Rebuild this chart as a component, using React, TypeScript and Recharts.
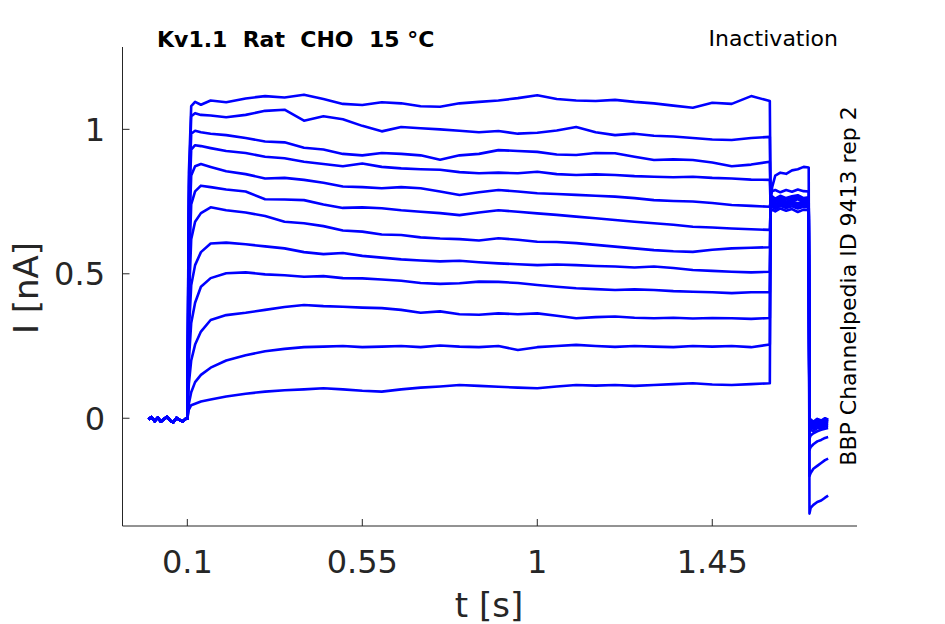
import { LineChart, Line, XAxis, YAxis } from "recharts";

// time grids (s)
const BASE_T = [0, 0.008, 0.016, 0.024, 0.032, 0.04, 0.048, 0.056, 0.064, 0.072, 0.08, 0.088, 0.096];
const PULSE_T = [
  0.1, 0.104, 0.11, 0.12, 0.135, 0.16, 0.2, 0.25, 0.3, 0.35, 0.4, 0.45, 0.5, 0.55, 0.6, 0.65, 0.7,
  0.75, 0.8, 0.85, 0.9, 0.95, 1.0, 1.05, 1.1, 1.15, 1.2, 1.25, 1.3, 1.35, 1.4, 1.45, 1.5, 1.55, 1.598,
];
const TEST_T = [1.6, 1.604, 1.612, 1.625, 1.64, 1.655, 1.67, 1.685, 1.698];
const TAIL_T = [1.7, 1.703, 1.71, 1.72, 1.73, 1.74, 1.748];

// holding current before the prepulse (nA)
const BASE_I = [-0.004, 0.004, -0.01, 0.002, -0.012, -0.003, 0.005, -0.008, -0.014, 0.001, -0.006, -0.011, -0.002];

// prepulse current per sweep (nA), top sweep first
const PULSE_I = [
  [0, 0.85, 1.08, 1.095, 1.085, 1.1, 1.094, 1.107, 1.115, 1.11, 1.12, 1.105, 1.088, 1.084, 1.094, 1.09, 1.08, 1.078, 1.09, 1.095, 1.1, 1.108, 1.118, 1.105, 1.1, 1.098, 1.102, 1.095, 1.09, 1.082, 1.075, 1.092, 1.088, 1.115, 1.098],
  [0, 0.8, 1.045, 1.056, 1.05, 1.048, 1.042, 1.05, 1.064, 1.068, 1.03, 1.045, 1.035, 1.012, 0.993, 1.008, 1.004, 1.0, 0.995, 0.99, 0.994, 0.985, 0.988, 0.996, 1.008, 0.99, 0.98, 0.985, 0.978, 0.975, 0.97, 0.965, 0.963, 0.97, 0.974],
  [0, 0.75, 0.985, 0.995, 0.99, 0.985, 0.98, 0.97, 0.958, 0.955, 0.936, 0.93, 0.915, 0.91, 0.918, 0.915, 0.91, 0.895, 0.91, 0.915, 0.928, 0.925, 0.922, 0.913, 0.911, 0.918, 0.917, 0.905, 0.894, 0.896, 0.894, 0.885, 0.872, 0.878, 0.888],
  [0, 0.7, 0.93, 0.945, 0.942, 0.935, 0.925, 0.918, 0.905, 0.9, 0.888, 0.88, 0.872, 0.882, 0.87, 0.865, 0.862, 0.86, 0.852, 0.848, 0.85, 0.848, 0.853, 0.845, 0.842, 0.844, 0.842, 0.838, 0.836, 0.834, 0.836, 0.832, 0.83, 0.826, 0.825],
  [0, 0.6, 0.84, 0.872, 0.88, 0.87, 0.855, 0.845, 0.83, 0.832, 0.825, 0.815, 0.802, 0.8, 0.796, 0.8, 0.796, 0.785, 0.773, 0.782, 0.79, 0.785, 0.779, 0.776, 0.773, 0.77, 0.767, 0.762, 0.755, 0.752, 0.75, 0.745, 0.738, 0.735, 0.732],
  [0, 0.5, 0.74, 0.785, 0.805, 0.8, 0.792, 0.785, 0.758, 0.757, 0.755, 0.74, 0.728, 0.73, 0.727, 0.72, 0.715, 0.71, 0.703, 0.712, 0.72, 0.715, 0.709, 0.704, 0.698, 0.692, 0.686, 0.68, 0.675, 0.67, 0.663, 0.66, 0.657, 0.654, 0.652],
  [0, 0.4, 0.62, 0.68, 0.71, 0.73, 0.72, 0.712, 0.7, 0.68, 0.675, 0.665, 0.65, 0.646, 0.636, 0.634, 0.626, 0.622, 0.62, 0.615, 0.623, 0.618, 0.611, 0.61, 0.606, 0.6, 0.594, 0.588, 0.582, 0.578, 0.576, 0.583, 0.588, 0.59, 0.592],
  [0, 0.3, 0.46, 0.53, 0.575, 0.605, 0.608, 0.602, 0.595, 0.588, 0.575, 0.568, 0.572, 0.562, 0.556, 0.55, 0.546, 0.543, 0.545, 0.54, 0.536, 0.533, 0.53, 0.532, 0.53, 0.527, 0.525, 0.522, 0.525, 0.52, 0.513, 0.51, 0.507, 0.505, 0.507],
  [0, 0.2, 0.33, 0.4, 0.455, 0.485, 0.502, 0.505, 0.498, 0.495, 0.49, 0.492, 0.485, 0.484, 0.48, 0.476, 0.468, 0.465, 0.467, 0.473, 0.472, 0.468, 0.461, 0.455, 0.45, 0.447, 0.444, 0.446, 0.444, 0.44, 0.438, 0.436, 0.433, 0.436, 0.436],
  [0, 0.12, 0.2, 0.255, 0.3, 0.34, 0.357, 0.365, 0.375, 0.385, 0.392, 0.388, 0.386, 0.383, 0.381, 0.375, 0.365, 0.37, 0.36, 0.358, 0.363, 0.36, 0.363, 0.355, 0.346, 0.35, 0.352, 0.348, 0.346, 0.348, 0.345, 0.347, 0.346, 0.344, 0.347],
  [0, 0.05, 0.09, 0.125, 0.15, 0.175, 0.2, 0.218, 0.232, 0.24, 0.246, 0.248, 0.25, 0.246, 0.248, 0.25, 0.246, 0.252, 0.248, 0.246, 0.25, 0.236, 0.246, 0.25, 0.254, 0.25, 0.247, 0.25, 0.248, 0.246, 0.25, 0.248, 0.25, 0.246, 0.255],
  [0, 0.03, 0.045, 0.05, 0.058, 0.065, 0.075, 0.085, 0.092, 0.097, 0.1, 0.104, 0.1, 0.095, 0.092, 0.1, 0.106, 0.11, 0.115, 0.112, 0.109, 0.106, 0.104, 0.11, 0.115, 0.113, 0.115, 0.112, 0.115, 0.118, 0.121, 0.117, 0.115, 0.118, 0.121],
];

// test pulse current per sweep (nA)
const TEST_I = [
  [0.74, 0.748, 0.738, 0.752, 0.744, 0.75, 0.74, 0.748, 0.745],
  [0.73, 0.738, 0.728, 0.74, 0.732, 0.742, 0.73, 0.736, 0.735],
  [0.745, 0.755, 0.748, 0.756, 0.746, 0.752, 0.758, 0.748, 0.75],
  [0.735, 0.742, 0.732, 0.745, 0.738, 0.744, 0.736, 0.742, 0.74],
  [0.75, 0.758, 0.752, 0.76, 0.75, 0.756, 0.762, 0.752, 0.755],
  [0.725, 0.732, 0.724, 0.735, 0.728, 0.734, 0.726, 0.732, 0.73],
  [0.755, 0.764, 0.756, 0.766, 0.758, 0.762, 0.768, 0.758, 0.76],
  [0.74, 0.75, 0.742, 0.748, 0.738, 0.75, 0.744, 0.75, 0.745],
  [0.715, 0.722, 0.716, 0.726, 0.718, 0.724, 0.714, 0.722, 0.72],
  [0.76, 0.768, 0.76, 0.77, 0.762, 0.768, 0.772, 0.762, 0.765],
  [0.775, 0.786, 0.79, 0.782, 0.79, 0.784, 0.792, 0.786, 0.785],
  [0.74, 0.8, 0.84, 0.85, 0.846, 0.858, 0.862, 0.87, 0.868],
];

// tail current per sweep (nA)
const TAIL_I = [
  [-0.01, -0.004, -0.012, -0.002, -0.008, 0.0, -0.005],
  [-0.02, -0.012, -0.018, -0.008, -0.014, -0.006, -0.01],
  [-0.015, -0.006, -0.014, -0.004, -0.01, -0.002, -0.006],
  [-0.03, -0.02, -0.026, -0.016, -0.022, -0.012, -0.016],
  [-0.025, -0.016, -0.022, -0.01, -0.018, -0.008, -0.012],
  [-0.035, -0.028, -0.032, -0.022, -0.026, -0.018, -0.02],
  [-0.04, -0.032, -0.036, -0.026, -0.03, -0.022, -0.024],
  [-0.05, -0.04, -0.044, -0.034, -0.036, -0.028, -0.03],
  [-0.07, -0.06, -0.052, -0.045, -0.04, -0.036, -0.034],
  [-0.11, -0.1, -0.09, -0.08, -0.075, -0.068, -0.065],
  [-0.2, -0.19, -0.175, -0.165, -0.155, -0.145, -0.14],
  [-0.33, -0.31, -0.3, -0.29, -0.285, -0.275, -0.268],
];

const X_TICKS = [0.1, 0.55, 1, 1.45];
const Y_TICKS = [0, 0.5, 1];

const AXIS = "#262626";
const TRACE = "#0000ff";
const FONT = "'DejaVu Sans', sans-serif";

const sweeps = PULSE_I.map((pulse, k) => [
  ...BASE_T.map((t, j) => ({ t, i: BASE_I[j] })),
  ...PULSE_T.map((t, j) => ({ t, i: j === 0 ? BASE_I[BASE_I.length - 1] : pulse[j] })),
  ...TEST_T.map((t, j) => ({ t, i: TEST_I[k][j] })),
  ...TAIL_T.map((t, j) => ({ t, i: TAIL_I[k][j] })),
]);

export default function App() {
  return (
    <div style={{ position: "absolute", left: 0, top: 0, width: 945, height: 624, background: "#fff" }}>
      <LineChart width={945} height={624} margin={{ top: 47, right: 88, bottom: 38, left: 62.5 }}>
        <XAxis
          type="number"
          dataKey="t"
          domain={[-0.0667, 1.8222]}
          ticks={X_TICKS}
          allowDataOverflow
          height={60}
          tickSize={-7}
          tickMargin={31}
          stroke={AXIS}
          tick={{ fill: AXIS, fontSize: 32, fontFamily: FONT }}
        />
        <YAxis
          type="number"
          domain={[-0.373, 1.285]}
          ticks={Y_TICKS}
          allowDataOverflow
          width={60}
          tickSize={-7}
          tickMargin={24.5}
          stroke={AXIS}
          tick={{ fill: AXIS, fontSize: 32, fontFamily: FONT }}
        />
        {sweeps.map((d, k) => (
          <Line
            key={k}
            data={d}
            dataKey="i"
            type="linear"
            stroke={TRACE}
            strokeWidth={2.6}
            strokeLinejoin="round"
            dot={false}
            isAnimationActive={false}
          />
        ))}
      </LineChart>
      <svg width={945} height={624} style={{ position: "absolute", left: 0, top: 0, pointerEvents: "none" }}>
        <text x={157} y={47} fontFamily={FONT} fontSize={22} fontWeight="bold" fill="#000" style={{ whiteSpace: "pre" }}>
          {"Kv1.1  Rat  CHO  15 °C"}
        </text>
        <text x={838} y={46} textAnchor="end" fontFamily={FONT} fontSize={22} fill="#000">
          Inactivation
        </text>
        <text transform="translate(856,286) rotate(-90)" textAnchor="middle" fontFamily={FONT} fontSize={22} fill="#000">
          BBP Channelpedia ID 9413 rep 2
        </text>
        <text transform="translate(38,288) rotate(-90)" textAnchor="middle" fontFamily={FONT} fontSize={34} fill={AXIS}>
          I [nA]
        </text>
        <text x={489} y={617} textAnchor="middle" fontFamily={FONT} fontSize={34} fill={AXIS}>
          t [s]
        </text>
      </svg>
    </div>
  );
}
